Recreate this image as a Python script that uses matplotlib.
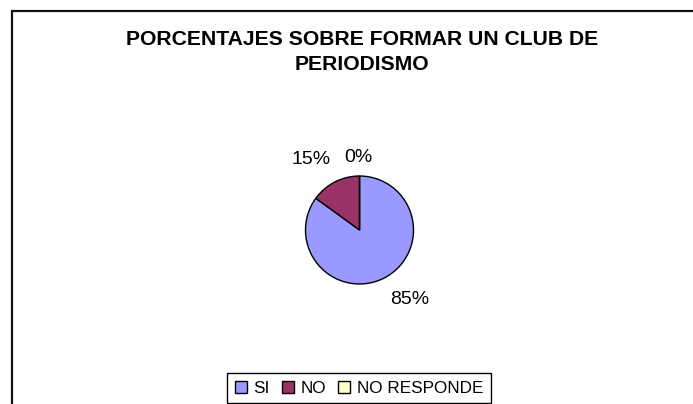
import matplotlib.pyplot as plt
from matplotlib.patches import Rectangle

# data
categories = ['SI', 'NO', 'NO RESPONDE']
values = [85, 15, 0]
colors = ['#9999FF', '#993366', '#FFFFCC']
title = 'PORCENTAJES SOBRE FORMAR UN CLUB DE\nPERIODISMO'

W, H = 693, 404
fig = plt.figure(figsize=(W / 100, H / 100), dpi=100)
fig.patch.set_facecolor('white')
plt.rcParams['font.family'] = ['Liberation Sans', 'DejaVu Sans']

# outer chart frame (runs off right and bottom edges like the source)
fig.add_artist(Rectangle((12 / W, -0.05), 1.1, 1 - 11 / H + 0.05,
                         transform=fig.transFigure, fill=False,
                         edgecolor='#111111', linewidth=1.6))

fig.text(362 / W, 1 - 52 / H, title, ha='center', va='center',
         fontsize=15.2, fontweight='bold', linespacing=1.45)

# pie axes, radius 54 px centred at (359.5, 230)
R = 54
cx, cy = 359.5, 230
half = 100
ax = fig.add_axes([(cx - half) / W, 1 - (cy + half) / H, 2 * half / W, 2 * half / H])
wedges, texts, autotexts = ax.pie(
    values, colors=colors, startangle=90, counterclock=False,
    autopct='%1.0f%%', pctdistance=1.4,
    wedgeprops=dict(edgecolor='black', linewidth=1.0),
    textprops=dict(fontsize=14))
ax.set_xlim(-half / R, half / R)
ax.set_ylim(-half / R, half / R)
ax.set_aspect('equal')
ax.axis('off')

# label placements as in the source
label_px = [(410, 299), (311, 160), (358.5, 158)]
for t, (px, py) in zip(autotexts, label_px):
    t.set_position(((px - cx) / R, (cy - py) / R))
    t.set_ha('center')
    t.set_va('center')

leg = fig.legend(wedges, categories, loc='upper center', ncol=3,
                 bbox_to_anchor=(359 / W, 1 - 373 / H), borderaxespad=0,
                 fontsize=12.3, handlelength=0.7, handleheight=0.7,
                 handletextpad=0.4, columnspacing=0.7, borderpad=0.45,
                 fancybox=False, edgecolor='black', framealpha=1)
leg.get_frame().set_linewidth(1.0)

fig.savefig('out.png', dpi=100)
